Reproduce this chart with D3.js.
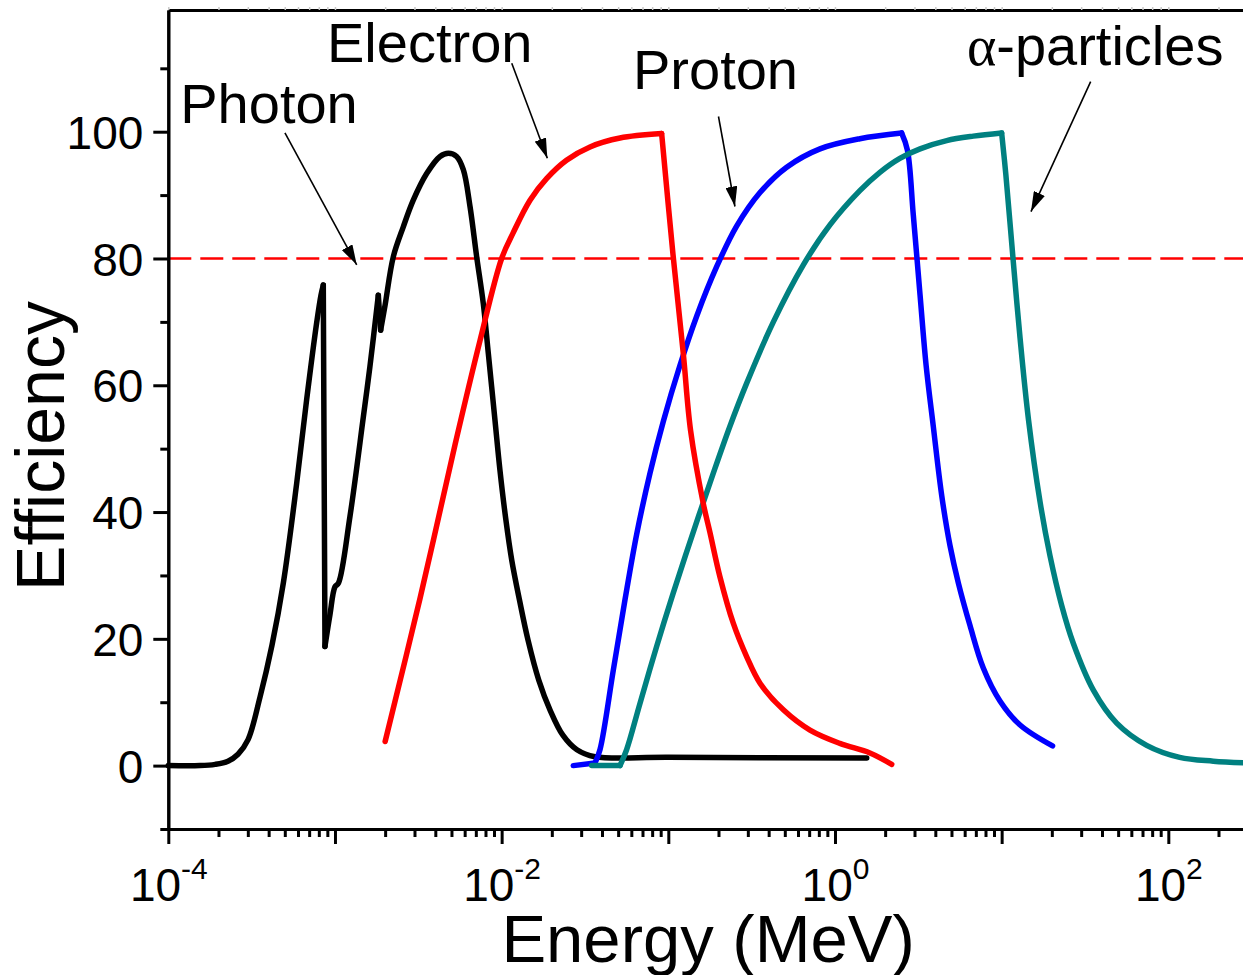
<!DOCTYPE html>
<html>
<head>
<meta charset="utf-8">
<script src="https://cdn.jsdelivr.net/npm/d3@7"></script>
<style>
  html, body { margin: 0; padding: 0; background: #fff; overflow: hidden; }
  text { font-family: "Liberation Sans", Arial, sans-serif; fill: #000; }
</style>
</head>
<body>
<svg id="chart" width="1243" height="975"></svg>
<script>
// Detection efficiency (%) versus particle energy (MeV)
const photonEnergy = [1.00e-4, 1.55e-4, 1.91e-4, 2.28e-4, 2.62e-4, 3.01e-4, 3.55e-4, 4.19e-4, 4.90e-4, 5.89e-4,
  6.76e-4, 7.76e-4, 8.24e-4, 8.51e-4, 8.71e-4, 9.33e-4, 1.00e-3, 1.05e-3, 1.23e-3, 1.48e-3,
  1.62e-3, 1.82e-3, 1.88e-3, 2.00e-3, 2.24e-3, 2.57e-3, 2.95e-3, 3.55e-3, 4.27e-3, 4.79e-3,
  5.37e-3, 5.89e-3, 6.46e-3, 7.08e-3, 7.76e-3, 8.32e-3, 9.12e-3, 9.77e-3, 1.06e-2, 1.15e-2,
  1.28e-2, 1.44e-2, 1.67e-2, 1.95e-2, 2.33e-2, 2.83e-2, 3.63e-2, 0.100, 1.55];
const photonEff = [0, 0, 0.2, 0.7, 1.8, 4.1, 10.8, 19.0, 28.8, 44.5,
  57.7, 69.8, 74.2, 75.8, 18.8, 23.8, 28.2, 28.8, 39.3, 55.0,
  62.9, 74.2, 68.7, 72.7, 80.3, 85.0, 89.2, 93.4, 96.1, 96.6,
  96.1, 94.0, 88.2, 80.3, 72.9, 65.0, 54.5, 46.6, 38.8, 32.4,
  26.1, 19.8, 13.5, 8.8, 4.8, 2.5, 1.4, 1.3, 1.2];

const electronEnergy = [2.00e-3, 3.24e-3, 5.25e-3, 7.41e-3, 1.00e-2, 1.17e-2, 1.48e-2, 1.86e-2, 2.45e-2, 3.39e-2,
  5.13e-2, 9.12e-2, 0.107, 0.123, 0.136, 0.162, 0.178, 0.204, 0.245, 0.295,
  0.355, 0.490, 0.708, 1.07, 1.62, 2.19];
const electronEff = [3.8, 26.4, 50.6, 67.0, 80.0, 84.0, 89.2, 92.6, 95.5, 97.6,
  99.0, 99.7, 80.3, 65.0, 52.9, 41.4, 36.7, 29.8, 22.5, 17.2,
  13.0, 8.8, 5.6, 3.5, 2.0, 0.2];

const protonEnergy = [2.69e-2, 3.63e-2, 3.89e-2, 4.68e-2, 5.50e-2, 6.46e-2, 7.76e-2, 9.33e-2, 0.117, 0.148,
  0.195, 0.257, 0.355, 0.513, 0.813, 1.41, 2.51, 2.72, 2.95, 3.24,
  3.52, 3.89, 4.37, 4.90, 5.50, 6.46, 7.76, 9.77, 12.9, 20.2];
const protonEff = [0, 0.4, 2.5, 15.1, 26.2, 36.5, 46.1, 54.3, 63.0, 70.9,
  78.7, 85.1, 90.4, 94.4, 97.3, 98.9, 99.8, 97.1, 86.9, 74.2,
  63.2, 53.5, 42.6, 34.7, 28.8, 22.1, 15.4, 10.2, 6.4, 3.1];

const alphaEnergy = [3.47e-2, 5.13e-2, 5.62e-2, 6.76e-2, 8.51e-2, 0.107, 0.141, 0.186, 0.234, 0.295,
  0.427, 0.646, 0.933, 1.41, 1.86, 2.45, 3.24, 4.68, 6.76, 10.0,
  10.6, 11.7, 12.9, 14.5, 17.0, 19.5, 22.9, 26.9, 35.5, 49.0,
  74.1, 117, 186, 300];
const alphaEff = [0, 0, 2.5, 9.8, 18.8, 27.2, 36.8, 46.1, 53.5, 60.3,
  70.0, 79.0, 85.3, 90.7, 93.6, 95.8, 97.3, 98.6, 99.3, 99.8,
  93.2, 80.0, 67.4, 54.5, 41.6, 33.1, 25.3, 19.3, 11.9, 6.7,
  3.2, 1.3, 0.7, 0.4];

const thresholdEff = 80;
const yMajorTicks = [0, 20, 40, 60, 80, 100];
const yMinorTicks = [-10, 10, 30, 50, 70, 90, 110];
const xLabelExponents = [-4, -2, 0, 2];

// Curve labels with arrow start/end, all in data units (MeV, %)
const labelNames = ["Photon", "Electron", "Proton", "particles"];
const labelEnergy = [1.18e-4, 8.96e-4, 6.14e-2, 6.19];
const labelEff = [101.4, 111.0, 106.7, 110.5];
const arrowFromEnergy = [5.01e-4, 1.15e-2, 0.200, 34.2];
const arrowFromEff = [99.8, 110.8, 102.4, 107.9];
const arrowToEnergy = [1.35e-3, 1.88e-2, 0.251, 15.0];
const arrowToEff = [79.0, 95.8, 88.2, 87.4];

const series = [
  { name: "Photon", energy: photonEnergy, eff: photonEff, color: "#000000" },
  { name: "Proton", energy: protonEnergy, eff: protonEff, color: "#0000FF" },
  { name: "α-particles", energy: alphaEnergy, eff: alphaEff, color: "#008080" },
  { name: "Electron", energy: electronEnergy, eff: electronEff, color: "#FF0000" }
];

const svg = d3.select("#chart");
const plotLeft = 168.3, plotTop = 10, plotBottom = 829;
const x = d3.scaleLog().domain([1e-4, 300]).range([plotLeft, plotLeft + Math.log10(300 / 1e-4) * 166.67]);
const y = d3.scaleLinear().domain([-10, 119.2]).range([plotBottom, plotTop]);
const xRight = x.range()[1];

// threshold line
svg.append("line")
  .attr("x1", x(1e-4)).attr("x2", xRight)
  .attr("y1", y(thresholdEff)).attr("y2", y(thresholdEff))
  .attr("stroke", "#FF0000").attr("stroke-width", 2.6)
  .attr("stroke-dasharray", "23,9");

// split a polyline where it turns sharply so corners stay crisp
function splitAtCorners(pts) {
  const segs = [[pts[0]]];
  for (let i = 1; i < pts.length; i++) {
    segs[segs.length - 1].push(pts[i]);
    if (i < pts.length - 1) {
      const ax = pts[i][0] - pts[i - 1][0], ay = pts[i][1] - pts[i - 1][1];
      const bx = pts[i + 1][0] - pts[i][0], by = pts[i + 1][1] - pts[i][1];
      const c = (ax * bx + ay * by) / (Math.hypot(ax, ay) * Math.hypot(bx, by));
      if (Math.acos(Math.max(-1, Math.min(1, c))) > Math.PI / 3) segs.push([pts[i]]);
    }
  }
  return segs;
}

const line = d3.line().curve(d3.curveCatmullRom.alpha(0.5));
series.forEach(s => {
  const pts = s.energy.map((e, i) => [x(e), y(s.eff[i])]);
  const g = svg.append("g").attr("class", "series");
  splitAtCorners(pts).forEach(seg => {
    g.append("path")
      .attr("d", line(seg))
      .attr("fill", "none")
      .attr("stroke", s.color)
      .attr("stroke-width", 5.5)
      .attr("stroke-linecap", "round")
      .attr("stroke-linejoin", "round");
  });
});

// axes
const decades = d3.range(-4, 3).map(p => Math.pow(10, p));
const minorX = [];
d3.range(-4, 3).forEach(p => { for (let m = 2; m <= 9; m++) { const v = m * Math.pow(10, p); if (v <= 300) minorX.push(v); } });

function styleAxis(g) {
  g.selectAll("path.domain").attr("stroke", "#000").attr("stroke-width", 3);
  g.selectAll(".tick line").attr("stroke", "#000").attr("stroke-width", 3);
}

svg.append("g").attr("transform", `translate(0,${plotBottom})`)
  .call(d3.axisBottom(x).tickValues(minorX).tickSize(8).tickSizeOuter(0).tickFormat(""))
  .call(styleAxis);
const xMajor = svg.append("g").attr("transform", `translate(0,${plotBottom})`)
  .call(d3.axisBottom(x).tickValues(decades).tickSize(15).tickSizeOuter(0).tickFormat(""))
  .call(styleAxis);

xMajor.selectAll(".tick").each(function(d) {
  const p = Math.round(Math.log10(d));
  if (!xLabelExponents.includes(p)) return;
  const t = d3.select(this).append("text")
    .attr("y", 72).attr("text-anchor", "middle")
    .attr("font-size", 46).attr("fill", "#000");
  t.append("tspan").text("10");
  t.append("tspan").attr("dy", -22).attr("font-size", 30).text(p);
});

// top frame with faint ticks
svg.append("g").attr("transform", `translate(0,${plotTop})`)
  .call(d3.axisTop(x).tickValues(decades.concat(minorX)).tickSize(3).tickSizeOuter(0).tickFormat(""))
  .call(g => {
    g.selectAll("path.domain").attr("stroke", "#000").attr("stroke-width", 3);
    g.selectAll(".tick line").attr("stroke", "#c8c8c8").attr("stroke-width", 1.5);
  });

svg.append("g").attr("transform", `translate(${plotLeft},0)`)
  .call(d3.axisLeft(y).tickValues(yMinorTicks).tickSize(8).tickSizeOuter(0).tickFormat(""))
  .call(styleAxis);
svg.append("g").attr("transform", `translate(${plotLeft},0)`)
  .call(d3.axisLeft(y).tickValues(yMajorTicks).tickSize(15).tickSizeOuter(0).tickFormat(d3.format("d")))
  .call(styleAxis)
  .call(g => g.selectAll(".tick text")
    .attr("x", -25).attr("dy", "0.36em")
    .attr("font-size", 46).attr("fill", "#000")
    .attr("font-family", "Liberation Sans, Arial, sans-serif"));

// axis titles
svg.append("text")
  .attr("x", (plotLeft + xRight) / 2).attr("y", 962)
  .attr("text-anchor", "middle").attr("font-size", 67)
  .text("Energy (MeV)");
svg.append("text")
  .attr("transform", "translate(64,446) rotate(-90)")
  .attr("text-anchor", "middle").attr("font-size", 68)
  .text("Efficiency");

// curve labels and arrows
const defs = svg.append("defs");
defs.append("marker")
  .attr("id", "arrowhead").attr("viewBox", "0 0 20 12")
  .attr("refX", 20).attr("refY", 6)
  .attr("markerWidth", 20).attr("markerHeight", 12)
  .attr("markerUnits", "userSpaceOnUse")
  .attr("orient", "auto")
  .append("path").attr("d", "M0,0 L20,6 L0,12 Z").attr("fill", "#000");

labelNames.forEach((name, i) => {
  const t = svg.append("text")
    .attr("x", x(labelEnergy[i])).attr("y", y(labelEff[i]))
    .attr("font-size", 56);
  if (name === "particles") {
    t.append("tspan").attr("font-family", "Liberation Serif, Times New Roman, serif").text("α");
    t.append("tspan").text("-particles");
  } else {
    t.text(name);
  }
  svg.append("line")
    .attr("x1", x(arrowFromEnergy[i])).attr("y1", y(arrowFromEff[i]))
    .attr("x2", x(arrowToEnergy[i])).attr("y2", y(arrowToEff[i]))
    .attr("stroke", "#000").attr("stroke-width", 1.6)
    .attr("marker-end", "url(#arrowhead)");
});
</script>
</body>
</html>
